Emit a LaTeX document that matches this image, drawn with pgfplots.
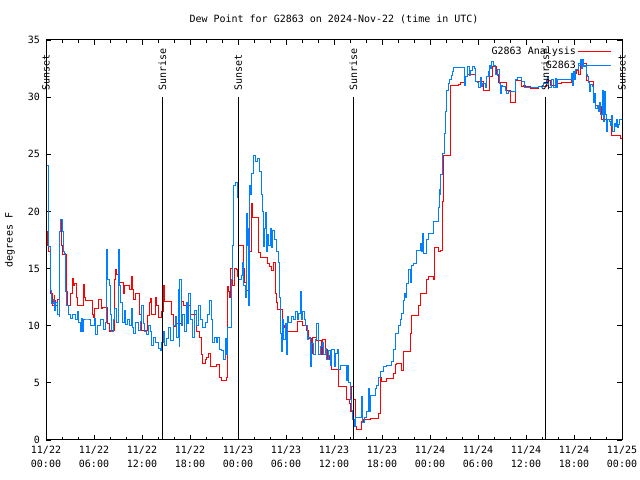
\documentclass[border=0pt]{standalone}
\usepackage{pgfplots}
\pgfplotsset{compat=1.18}
\usepackage{fontspec}
\setmainfont{DejaVu Sans Mono}
\definecolor{gred}{RGB}{255,0,0}
\definecolor{gblue}{RGB}{0,128,255}
\pgfplotstableread{
h v
0.0 18.2
0.21 17.0
0.29 18.5
0.37 16.5
0.5 14.0
0.58 12.8
0.79 11.8
1.0 12.6
1.12 12.2
1.2 11.8
1.41 12.3
1.7 18.2
1.83 19.3
1.91 17.0
2.03 16.2
2.57 13.0
2.74 11.8
3.07 12.8
3.28 14.1
3.4 13.5
3.57 13.7
3.82 12.5
3.9 11.8
4.65 13.6
4.82 12.5
4.94 12.2
5.77 11.0
5.9 10.7
5.98 11.5
6.6 12.3
6.89 11.5
7.02 11.6
7.64 10.2
7.85 9.5
8.06 9.6
8.55 14.0
8.64 14.9
8.8 14.5
9.09 13.8
9.63 12.8
9.8 13.5
10.34 13.2
10.63 14.3
10.75 13.2
10.96 12.3
11.17 12.8
11.59 11.0
11.9 9.6
12.62 10.9
12.87 12.0
13.04 12.4
13.16 11.0
13.58 12.5
13.79 11.8
13.99 10.7
14.41 11.2
14.62 13.5
14.82 12.1
15.66 11.0
15.86 9.9
16.28 10.2
16.9 12.1
17.11 11.8
17.94 11.0
18.77 9.5
19.18 9.0
19.39 7.5
19.52 6.7
19.81 7.0
20.02 7.2
20.22 7.6
20.51 6.4
21.26 6.6
21.59 5.5
21.88 5.2
22.51 5.5
22.63 13.4
22.76 13.0
22.84 12.5
23.0 15.0
23.17 13.5
23.42 15.0
23.67 14.9
23.8 14.3
23.95 17.0
24.58 15.0
24.71 13.8
25.0 13.1
25.25 16.5
25.54 20.7
25.66 19.5
26.49 16.4
26.78 16.0
27.62 15.4
27.82 15.2
28.15 14.8
28.32 15.5
28.57 12.8
28.74 12.0
28.86 11.4
29.48 10.0
29.69 9.8
29.9 9.5
31.35 10.4
31.98 10.0
32.39 9.6
32.72 8.9
33.01 7.6
33.14 9.0
33.64 8.7
34.26 7.5
34.47 8.8
34.8 7.9
35.09 7.0
35.35 7.4
35.6 6.2
36.42 4.7
37.46 3.5
37.79 3.2
37.95 2.5
38.08 4.7
38.29 3.5
38.49 1.2
38.7 0.9
39.33 1.6
39.53 1.75
40.36 1.9
41.4 2.3
41.61 5.5
41.82 5.1
42.44 5.4
43.27 5.8
43.48 6.6
43.69 6.7
44.31 6.1
44.52 7.7
45.35 9.3
45.55 10.85
46.38 11.8
46.59 12.8
47.42 14.0
47.63 14.3
48.25 14.0
48.45 16.8
48.95 16.5
49.2 16.6
49.37 20.9
49.57 24.85
50.4 31.0
51.36 31.1
51.57 31.3
52.27 31.8
52.48 32.0
53.44 31.35
54.47 30.6
55.3 31.8
55.6 32.7
56.14 32.0
56.34 31.3
57.38 30.6
57.8 29.5
58.42 31.44
59.25 30.9
59.46 31.06
59.67 30.9
60.29 30.77
61.33 30.9
62.37 31.44
62.78 31.06
63.41 31.15
64.24 31.27
65.48 32.08
66.1 32.3
66.31 32.0
66.52 32.96
67.35 31.44
67.56 31.35
68.18 29.6
68.39 29.3
68.81 29.2
69.22 28.0
70.47 26.6
71.5 26.4
71.75 26.4
}\redtab
\pgfplotstableread{
h v
0.0 24.06
0.25 21.6
0.37 16.9
0.54 13.1
0.66 11.9
0.91 12.3
1.08 11.3
1.2 12.0
1.49 11.0
1.62 10.8
1.7 18.2
1.83 19.25
2.03 18.2
2.24 16.5
2.32 16.3
2.45 13.0
2.57 11.8
2.86 11.0
2.99 10.6
3.28 11.0
3.7 10.5
3.9 11.2
4.03 10.3
4.24 9.5
4.4 10.6
4.53 9.5
4.73 10.5
5.15 10.5
5.56 10.0
5.98 10.6
6.19 9.2
6.39 10.0
6.81 10.5
7.14 9.7
7.43 10.3
7.56 16.7
7.72 14.0
7.85 13.5
8.06 11.0
8.22 9.5
8.39 10.5
8.55 11.5
8.8 10.3
8.97 16.7
9.14 13.5
9.3 12.0
9.47 10.3
9.72 11.3
9.92 10.1
10.13 10.5
10.46 10.0
10.63 11.5
10.8 9.8
10.96 9.3
11.21 10.3
11.46 9.6
11.71 10.4
11.92 11.8
12.13 10.2
12.33 9.5
12.54 9.2
12.75 10.0
12.96 9.5
13.16 8.3
13.37 9.0
13.7 8.5
13.99 8.0
14.2 7.8
14.41 8.5
14.62 9.5
14.82 8.3
15.03 8.9
15.24 9.8
15.45 8.7
15.86 10.0
16.07 10.8
16.28 9.0
16.49 13.2
16.57 8.2
16.69 14.0
16.82 10.0
17.03 11.0
17.19 9.5
17.44 12.0
17.61 10.2
17.81 12.8
18.02 10.5
18.19 9.0
18.44 11.3
18.69 10.0
19.02 11.8
19.27 10.5
19.52 9.8
19.81 10.3
20.1 11.0
20.35 12.2
20.56 10.5
20.72 8.5
20.93 9.0
21.18 8.5
21.39 9.0
21.59 7.9
21.88 7.8
22.09 7.06
22.42 8.9
22.51 7.5
22.63 9.8
23.13 14.0
23.21 17.0
23.34 22.3
23.55 22.5
23.8 21.2
23.95 14.0
24.29 14.4
24.42 15.5
24.58 13.5
24.79 12.5
24.92 19.8
25.04 17.0
25.17 18.5
25.25 11.8
25.33 22.3
25.5 21.5
25.62 23.3
25.83 24.9
26.08 24.4
26.37 24.6
26.58 23.5
26.83 21.5
26.95 20.0
27.08 16.9
27.2 18.5
27.32 19.9
27.45 16.5
27.62 18.0
27.74 17.0
27.91 18.5
28.07 16.8
28.24 18.3
28.45 17.5
28.65 16.5
28.9 15.5
29.07 12.5
29.23 9.3
29.36 7.73
29.48 10.5
29.61 8.8
29.77 10.2
29.9 7.5
30.02 10.8
30.23 10.3
30.52 10.8
30.81 10.5
31.06 11.2
31.31 10.5
31.48 11.1
31.64 12.98
31.77 10.5
31.98 11.2
32.18 10.5
32.31 10.0
32.51 8.8
32.72 9.0
32.89 6.4
33.06 8.4
33.31 7.5
33.55 8.8
33.72 10.2
33.89 7.5
34.14 8.2
34.38 8.5
34.55 7.5
34.8 8.0
34.97 7.0
35.21 7.8
35.38 6.5
35.5 7.9
35.88 6.4
36.09 7.6
36.29 7.9
36.42 6.2
36.63 6.5
37.46 5.2
37.58 6.5
37.71 5.0
37.87 3.5
38.08 2.6
38.2 1.8
38.37 1.2
38.54 2.0
39.33 3.8
39.45 1.5
39.62 2.0
39.95 2.5
40.16 4.5
40.28 2.5
40.36 3.9
40.99 4.5
41.19 4.8
41.4 5.5
41.61 6.0
42.02 6.4
42.44 6.5
43.06 6.9
43.27 7.9
43.48 9.3
43.89 10.0
44.1 10.5
44.31 11.1
44.52 12.2
44.68 12.8
44.81 12.5
44.93 13.7
45.14 14.9
45.35 13.8
45.55 15.3
45.76 15.46
46.18 16.6
46.59 17.2
46.72 16.5
46.84 18.08
47.01 16.3
47.42 17.5
47.63 18.08
48.25 19.1
48.87 20.3
48.99 21.9
49.12 21.5
49.2 23.2
49.33 23.5
49.45 25.1
49.62 26.8
49.74 28.7
49.91 30.6
50.11 31.2
50.32 31.5
50.53 31.9
50.65 32.2
50.82 32.6
52.19 31.06
52.31 31.8
52.48 32.7
52.69 31.9
52.9 32.3
53.1 32.7
53.35 32.5
53.52 31.35
53.77 31.3
53.93 30.8
54.1 31.7
54.23 30.9
54.39 31.2
54.72 30.8
54.93 31.8
55.06 32.2
55.18 31.8
55.26 32.8
55.39 32.5
55.55 33.1
55.76 32.8
55.97 32.5
56.05 32.0
56.18 31.9
56.3 32.4
56.43 31.2
56.59 30.3
56.72 31.0
56.88 30.9
57.22 30.6
57.42 30.33
57.63 30.5
58.46 31.5
58.71 31.73
59.29 31.35
59.54 30.86
61.33 30.9
61.95 31.2
62.41 31.8
62.58 30.8
62.99 31.5
63.2 30.8
63.41 31.6
63.53 30.8
63.66 31.5
65.48 32.1
65.61 31.0
65.73 32.2
65.86 31.5
65.98 32.4
66.31 32.96
66.56 33.3
66.69 32.5
66.81 33.3
66.98 32.7
67.19 32.8
67.31 32.0
67.44 31.8
67.6 31.3
67.73 30.5
67.85 31.1
68.02 30.9
68.18 29.5
68.35 30.3
68.47 29.0
68.64 29.3
68.81 28.7
68.93 29.5
69.1 28.5
69.26 30.6
69.39 27.9
69.51 30.5
69.64 28.5
69.76 27.0
69.93 28.0
70.13 27.85
70.34 27.5
70.47 28.4
70.59 27.0
70.76 27.7
70.92 27.4
71.05 28.0
71.17 27.3
71.34 27.6
71.46 28.0
71.75 27.8
}\bluetab
\begin{document}
\fontsize{10bp}{12bp}\selectfont
\begin{tikzpicture}[x=1bp,y=1bp]
\useasboundingbox (-46,-40) rectangle (594,440);
\node[anchor=center] at (288,421) {Dew Point for G2863 on 2024-Nov-22 (time in UTC)};
\node[rotate=90, anchor=center] at (-36,200) {degrees F};
\begin{axis}[
  scale only axis, width=576bp, height=400bp,
  xmin=0, xmax=71.748, ymin=0, ymax=35,
  xtick={0,5.979,11.958,17.937,23.916,29.895,35.874,41.853,47.832,53.811,59.79,65.769,71.748},
  xticklabels={{11/22\\00:00},{11/22\\06:00},{11/22\\12:00},{11/22\\18:00},{11/23\\00:00},{11/23\\06:00},{11/23\\12:00},{11/23\\18:00},{11/24\\00:00},{11/24\\06:00},{11/24\\12:00},{11/24\\18:00},{11/25\\00:00}},
  minor x tick num=2,
  ytick={0,5,10,15,20,25,30,35},
  tick align=inside,
  major tick length=5bp, minor tick length=3bp,
  tick style={black, line width=0.8bp},
  axis line style={line width=1bp},
  /pgf/number format/assume math mode=true,
  ticklabel style={font=\fontsize{10bp}{14bp}\selectfont},
  xticklabel style={align=center, yshift=-3bp},
  yticklabel style={xshift=-2.5bp},
  clip mode=individual,
  legend cell align=right,
  legend plot pos=right,
  legend style={draw=none, fill=none, at={(rel axis cs:0.982,0.988)}, anchor=north east, inner sep=0pt, row sep=2.5bp, font=\fontsize{10bp}{12bp}\selectfont, nodes={inner sep=1.5bp}},
  legend image code/.code={\path (0bp,0bp) -- (6bp,0bp); \draw[#1] (6bp,0bp) -- (33bp,0bp);},
]
\addplot[const plot, gred, line width=1bp] table[x=h, y=v] {\redtab};
\addlegendentry{G2863 Analysis}
\addplot[const plot, gblue, line width=1bp] table[x=h, y=v] {\bluetab};
\addlegendentry{G2863}
\addplot[black, line width=1bp, forget plot] coordinates {(0,0) (0,30)};
\addplot[black, line width=1bp, forget plot] coordinates {(14.49,0) (14.49,30)};
\addplot[black, line width=1bp, forget plot] coordinates {(23.95,0) (23.95,30)};
\addplot[black, line width=1bp, forget plot] coordinates {(38.28,0) (38.28,30)};
\addplot[black, line width=1bp, forget plot] coordinates {(62.2,0) (62.2,30)};
\addplot[black, line width=1bp, forget plot] coordinates {(71.748,0) (71.748,30)};
\node[rotate=90, anchor=west, inner sep=0pt] at ([yshift=6bp]axis cs:0,30) {Sunset};
\node[rotate=90, anchor=west, inner sep=0pt] at ([yshift=6bp]axis cs:14.49,30) {Sunrise};
\node[rotate=90, anchor=west, inner sep=0pt] at ([yshift=6bp]axis cs:23.95,30) {Sunset};
\node[rotate=90, anchor=west, inner sep=0pt] at ([yshift=6bp]axis cs:38.28,30) {Sunrise};
\node[rotate=90, anchor=west, inner sep=0pt] at ([yshift=6bp]axis cs:62.2,30) {Sunrise};
\node[rotate=90, anchor=west, inner sep=0pt] at ([yshift=6bp]axis cs:71.748,30) {Sunset};
\end{axis}
\end{tikzpicture}
\end{document}
